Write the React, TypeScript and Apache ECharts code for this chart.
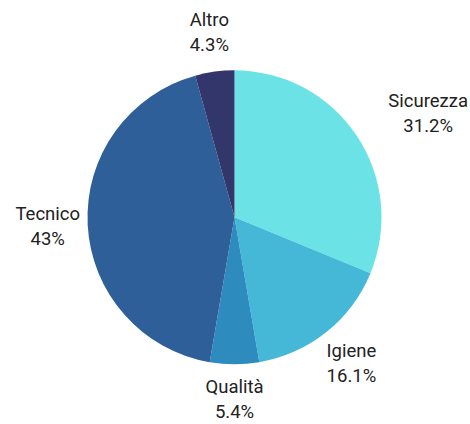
import React, { useEffect, useRef } from "react";
import * as echarts from "echarts";

const categories = ["Sicurezza", "Igiene", "Qualità", "Tecnico", "Altro"];
const values = [31.2, 16.1, 5.4, 43, 4.3];
const colors = ["#6be3e6", "#45b8d8", "#2e8bbd", "#2f5f98", "#33366a"];

const W = 470;
const H = 424;
const CX = 234.5;
const CY = 217.3;
const R = 147;
const LABEL_R = R + 40;
const CLEAR_R = R + 26;

export default function App() {
  const ref = useRef<HTMLDivElement>(null);
  useEffect(() => {
    document.body.style.margin = "0";
    const chart = echarts.init(ref.current!, null, { renderer: "svg" });
    const total = values.reduce((a, b) => a + b, 0);
    const midAngles: number[] = [];
    let acc = 0;
    values.forEach((v) => {
      midAngles.push(((acc + v / 2) / total) * Math.PI * 2);
      acc += v;
    });
    chart.setOption({
      animation: false,
      series: [
        {
          type: "pie",
          center: [CX, CY],
          radius: R,
          startAngle: 90,
          clockwise: true,
          avoidLabelOverlap: false,
          data: categories.map((c, i) => ({
            name: c,
            value: values[i],
            itemStyle: { color: colors[i] },
          })),
          label: {
            show: true,
            position: "outside",
            formatter: "{b}\n{d}%",
            fontFamily: "Roboto",
            fontSize: 18.5,
            lineHeight: 25,
            color: "#222",
            align: "center",
          },
          labelLine: { show: false },
          labelLayout: (p: any) => {
            const a = midAngles[p.dataIndex];
            const dx = Math.sin(a);
            const dy = -Math.cos(a);
            let x = CX + dx * LABEL_R;
            let y = CY + dy * LABEL_R;
            const w = p.labelRect.width;
            const h = p.labelRect.height;
            if (y + h / 2 > H) y = H - h / 2;
            if (y - h / 2 < 0) y = h / 2;
            const left = x - w / 2;
            const right = x + w / 2;
            const top = y - h / 2;
            const bottom = y + h / 2;
            const nx = Math.max(left, Math.min(CX, right));
            const ny = Math.max(top, Math.min(CY, bottom));
            const dist = Math.hypot(nx - CX, ny - CY);
            if (dist < R) {
              const dyc = Math.abs(ny - CY);
              const need = Math.sqrt(Math.max(0, CLEAR_R * CLEAR_R - dyc * dyc));
              if (dx >= 0) x = CX + need + w / 2;
              else x = CX - need - w / 2;
            }
            if (x + w / 2 > W) x = W - w / 2;
            if (x - w / 2 < 0) x = w / 2;
            return { x, y, align: "center", verticalAlign: "middle" };
          },
        },
      ],
    });
    return () => chart.dispose();
  }, []);
  return <div ref={ref} style={{ width: W, height: H }} />;
}
